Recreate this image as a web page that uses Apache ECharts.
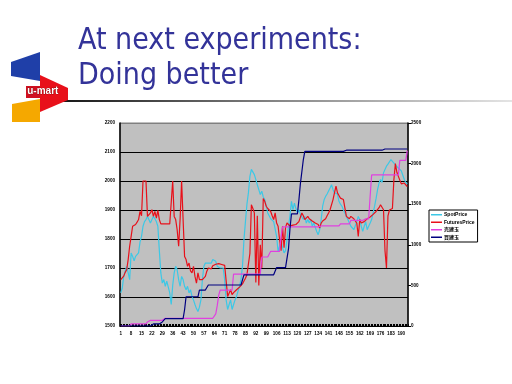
<!DOCTYPE html>
<html><head><meta charset="utf-8">
<script src="https://cdn.jsdelivr.net/npm/echarts@6/dist/echarts.min.js"></script>
<style>html,body{margin:0;padding:0;background:#fff}#c{width:512px;height:384px}</style>
</head><body><div id="c"></div>
<script>
const titleLines = ['At next experiments:', 'Doing better'];
const seriesNames = ['SpotPrice', 'FuturesPrice', '売建玉', '買建玉'];
const xTickLabels = ['1','8','15','22','29','36','43','50','57','64','71','78','85','92','99','106','113','120','127','134','141','148','155','162','169','176','183','190'];
const pointCount = 194;
const categories = Array.from({length: pointCount}, (_, i) => String(i + 1));

const spot = [
1614,1630,1671,1689,1706,1683,1660,1752,1740,1725,
1740,1745,1752,1790,1809,1844,1860,1867,1878,1872,
1855,1867,1878,1870,1860,1844,1760,1683,1648,1660,
1637,1655,1650,1614,1574,1640,1683,1706,1694,1660,
1637,1671,1660,1637,1625,1637,1614,1625,1602,1590,
1574,1560,1550,1565,1590,1660,1706,1717,1711,1717,
1723,1717,1729,1731,1723,1706,1703,1700,1700,1700,
1660,1590,1557,1574,1590,1557,1574,1590,1602,1620,
1637,1660,1706,1798,1860,1920,1959,2016,2040,2035,
2022,2005,1987,1970,1953,1965,1945,1936,1913,1890,
1880,1870,1867,1860,1855,1809,1757,1775,1790,1770,
1752,1760,1798,1844,1880,1930,1901,1924,1905,1890,
1901,1885,1890,1867,1878,1855,1867,1855,1867,1844,
1855,1850,1826,1815,1832,1867,1913,1935,1947,1955,
1959,1976,1987,1970,1959,1965,1955,1930,1920,1913,
1901,1890,1878,1867,1855,1844,1838,1832,1838,1860,
1878,1867,1844,1826,1844,1860,1832,1844,1855,1867,
1890,1913,1940,1970,1993,2005,1995,2028,2040,2051,
2058,2062,2074,2070,2062,2055,2050,2045,2040,2035,
2020,2005,1995,1990];

const futures = [
1660,1665,1672,1685,1694,1729,1775,1809,1844,1848,
1850,1858,1867,1895,1880,2000,2000,2000,1878,1884,
1890,1901,1878,1895,1872,1899,1867,1852,1852,1852,
1852,1852,1852,1852,1852,2000,1878,1867,1832,1775,
1870,2000,1867,1740,1729,1706,1717,1690,1683,1706,
1671,1648,1683,1660,1666,1660,1665,1671,1689,1700,
1706,1697,1708,1711,1713,1715,1715,1713,1712,1711,
1709,1706,1602,1608,1625,1608,1615,1620,1625,1631,
1634,1637,1645,1655,1665,1677,1683,1750,1918,1905,
1890,1650,1880,1640,1780,1700,1940,1930,1913,1905,
1901,1895,1880,1867,1890,1855,1844,1798,1760,1844,
1770,1840,1855,1850,1845,1840,1848,1844,1850,1845,
1860,1875,1890,1880,1867,1872,1878,1870,1867,1862,
1858,1855,1852,1850,1838,1855,1862,1867,1870,1880,
1890,1901,1898,1936,1960,1982,1959,1950,1941,1938,
1936,1936,1878,1878,1870,1878,1874,1870,1862,1855,
1809,1867,1855,1858,1860,1864,1870,1874,1876,1878,
1885,1890,1895,1901,1908,1918,1912,1901,1760,1700,
1880,1900,1901,1905,2005,2060,2030,2016,2010,1990,
1987,1993,1990,1981];

const sellVol = [
0,0,0,0,0,0,0,25,25,25,
25,25,25,25,25,25,25,25,50,70,
70,70,70,70,70,70,70,70,70,70,
95,95,95,95,95,95,95,95,95,95,
95,95,95,95,95,95,95,95,95,95,
95,95,95,95,95,95,95,95,95,95,
95,95,95,95,150,250,380,443,443,443,
443,443,443,443,443,443,640,640,640,640,
640,640,640,640,640,640,640,640,640,640,
640,640,640,640,640,850,850,850,850,850,
850,920,920,920,920,920,920,920,1100,1220,
1220,1220,1220,1220,1220,1220,1220,1220,1220,1220,
1220,1220,1220,1220,1220,1220,1220,1220,1220,1220,
1220,1220,1220,1220,1220,1232,1232,1232,1232,1232,
1232,1232,1232,1232,1232,1232,1232,1232,1258,1258,
1258,1258,1258,1258,1258,1300,1300,1300,1300,1300,
1300,1300,1300,1300,1320,1320,1320,1320,1600,1860,
1860,1860,1860,1860,1860,1860,1860,1860,1860,1860,
1860,1860,1860,1860,1860,1860,1860,1860,2040,2040,
2040,2040,2040,2160];

const buyVol = [
0,0,0,0,0,0,0,0,0,0,
0,0,0,0,0,0,0,0,0,0,
0,0,25,25,25,25,25,25,50,50,
90,90,90,90,90,90,90,90,90,90,
90,90,90,200,360,360,360,360,360,360,
360,360,360,443,443,443,443,443,443,505,
505,505,505,505,505,505,505,505,505,505,
505,505,505,505,505,505,505,505,505,505,
505,505,505,630,630,630,630,630,630,630,
630,630,630,630,630,630,630,630,630,630,
630,630,630,630,630,720,720,720,720,720,
720,720,720,950,1200,1380,1380,1380,1380,1380,
1550,1750,1900,2050,2150,2150,2150,2150,2150,2150,
2150,2150,2150,2150,2150,2150,2150,2150,2150,2150,
2150,2150,2150,2150,2150,2150,2150,2150,2150,2150,
2150,2165,2165,2165,2165,2165,2165,2165,2165,2165,
2165,2165,2165,2165,2165,2165,2165,2165,2165,2165,
2165,2165,2165,2165,2165,2165,2165,2165,2180,2180,
2180,2180,2180,2180,2180,2180,2180,2180,2180,2180,
2180,2180,2180,2180];

const colors = ['#3cc8e6', '#e8101a', '#e040e0', '#000080'];
const smallFont = {fontSize: 4.6, fontWeight: 'bold', color: '#000', fontFamily: 'Liberation Sans, Noto Sans CJK JP'};
const plain = (v) => String(v);

const chart = echarts.init(document.getElementById('c'), null, {renderer: 'canvas'});
const mk = (name, data, axis, color, w) => ({
  name, type: 'line', data, yAxisIndex: axis, symbol: 'none', showSymbol: false,
  lineStyle: {width: w, color}, itemStyle: {color}, animation: false, z: 3
});
chart.setOption({
  animation: false,
  backgroundColor: '#fff',
  grid: {left: 120, right: 104, top: 123, bottom: 58, show: true, backgroundColor: '#c0c0c0', borderColor: '#808080', borderWidth: 1},
  xAxis: {
    type: 'category', data: categories, boundaryGap: true,
    axisLine: {lineStyle: {color: '#000', width: 1}},
    axisTick: {show: true, inside: true, length: 2, interval: 0, lineStyle: {color: '#000'}},
    axisLabel: Object.assign({interval: 6, margin: 5, formatter: (v) => xTickLabels.includes(v) ? v : ''}, smallFont),
    splitLine: {show: false}
  },
  yAxis: [
    {type: 'value', min: 1500, max: 2200, interval: 100, position: 'left',
     axisLine: {show: true, lineStyle: {color: '#000', width: 1.5}},
     axisTick: {show: false},
     axisLabel: Object.assign({margin: 5, formatter: plain}, smallFont),
     splitLine: {show: true, lineStyle: {color: ['#000','#000','#000','#000','#000','#000','#000','#808080'], width: 1}}},
    {type: 'value', min: 0, max: 2500, interval: 500, position: 'right',
     axisLine: {show: true, lineStyle: {color: '#000', width: 1.5}},
     axisTick: {show: true, length: 3, lineStyle: {color: '#000'}},
     axisLabel: Object.assign({margin: 3, formatter: plain}, smallFont),
     splitLine: {show: false}}
  ],
  legend: {
    orient: 'vertical', left: 429, top: 210, data: seriesNames,
    icon: 'rect', itemWidth: 11, itemHeight: 1.5, itemGap: 2, padding: [2, 3, 2, 2],
    borderColor: '#000', borderWidth: 1, backgroundColor: '#fff',
    textStyle: {fontSize: 5, fontWeight: 'bold', color: '#000', fontFamily: 'Liberation Sans, Noto Sans CJK JP', padding: [0, 0, 0, -3], lineHeight: 5.5}
  },
  series: [
    mk(seriesNames[0], spot, 0, colors[0], 1.2),
    mk(seriesNames[1], futures, 0, colors[1], 1.2),
    mk(seriesNames[2], sellVol, 1, colors[2], 1.2),
    mk(seriesNames[3], buyVol, 1, colors[3], 1.2)
  ],
  graphic: [
    {type: 'text', left: 78, top: 26, style: {text: titleLines[0], fill: '#333399', font: '30px "DejaVu Sans Condensed", "DejaVu Sans", sans-serif'}},
    {type: 'text', left: 78, top: 61, style: {text: titleLines[1], fill: '#333399', font: '30px "DejaVu Sans Condensed", "DejaVu Sans", sans-serif'}},
    {type: 'rect', shape: {x: 50, y: 100, width: 462, height: 2},
     style: {fill: new echarts.graphic.LinearGradient(0, 0, 1, 0, [{offset: 0, color: '#111'}, {offset: 0.5, color: '#888'}, {offset: 1, color: '#e4e4e4'}])}},
    {type: 'polygon', shape: {points: [[11, 62], [40, 52], [40, 81], [11, 76]]}, style: {fill: '#1f3fa8'}},
    {type: 'polygon', shape: {points: [[40, 75], [68, 88], [68, 100], [40, 112]]}, style: {fill: '#e8101a'}},
    {type: 'rect', shape: {x: 26, y: 86, width: 14, height: 12}, style: {fill: '#d01020'}},
    {type: 'polygon', shape: {points: [[12, 104], [40, 99], [40, 122], [12, 122]]}, style: {fill: '#f5a800'}},
    {type: 'text', left: 27, top: 86, style: {text: 'u-mart', fill: '#fff', font: 'bold 10px "Liberation Sans", sans-serif', stroke: '#600', lineWidth: 0.5}}
  ]
});
</script></body></html>
